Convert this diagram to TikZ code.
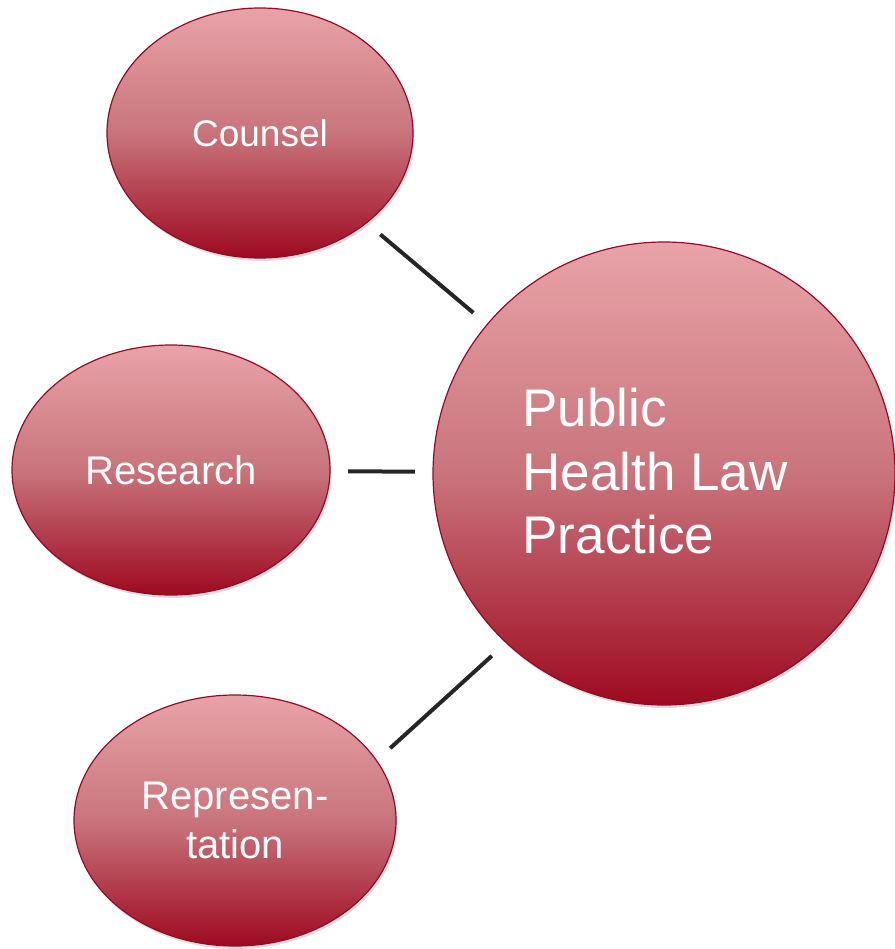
\documentclass[tikz,border=0pt]{standalone}
\usepackage{fontspec}
\setmainfont{Liberation Sans}
\usetikzlibrary{shapes.geometric,shadows}
\definecolor{topc}{HTML}{E8A3A8}
\definecolor{midc}{HTML}{C9747C}
\definecolor{botc}{HTML}{9E0A20}
\definecolor{edgec}{HTML}{960A28}
\definecolor{linec}{HTML}{262626}
\tikzset{
  bubble/.style={ellipse, draw=edgec, line width=1.2pt, inner sep=0pt,
    top color=topc, bottom color=botc, middle color=midc,
    text=white, align=center,
    drop shadow={shadow xshift=1.5pt, shadow yshift=-3pt, fill=black!25, opacity=0.5}},
  conn/.style={draw=linec, line width=4pt, shorten <=17.5pt, shorten >=17.5pt},
  smalltxt/.style={font=\fontsize{37}{48}\selectfont},
  midtxt/.style={font=\fontsize{40}{48.5}\selectfont},
  bigtxt/.style={font=\fontsize{53}{63.5}\selectfont}
}
\begin{document}
\begin{tikzpicture}[x=1pt,y=-1pt]
\useasboundingbox (0,0) rectangle (894,949);
\node[bubble, minimum width=462pt, minimum height=463pt] (phlp) at (664,473.5) {};
\node[bigtxt, text=white, align=left, anchor=north west] (phlptxt) at (519,385) {Public\\Health Law\\Practice};
\node[bubble, smalltxt, minimum width=306pt, minimum height=250pt] (counsel) at (260,133) {Counsel};
\node[bubble, midtxt, minimum width=318pt, minimum height=250pt] (research) at (171,470) {Research};
\node[bubble, midtxt, minimum width=322pt, minimum height=251pt] (rep) at (235,820.5) {Represen-\\tation};
\draw[conn] (counsel) -- (phlp);
\draw[conn] (research) -- (phlp);
\draw[conn, shorten <=18pt, shorten >=19pt] (rep.23.4) -- (phlp.227.6);
\end{tikzpicture}
\end{document}
